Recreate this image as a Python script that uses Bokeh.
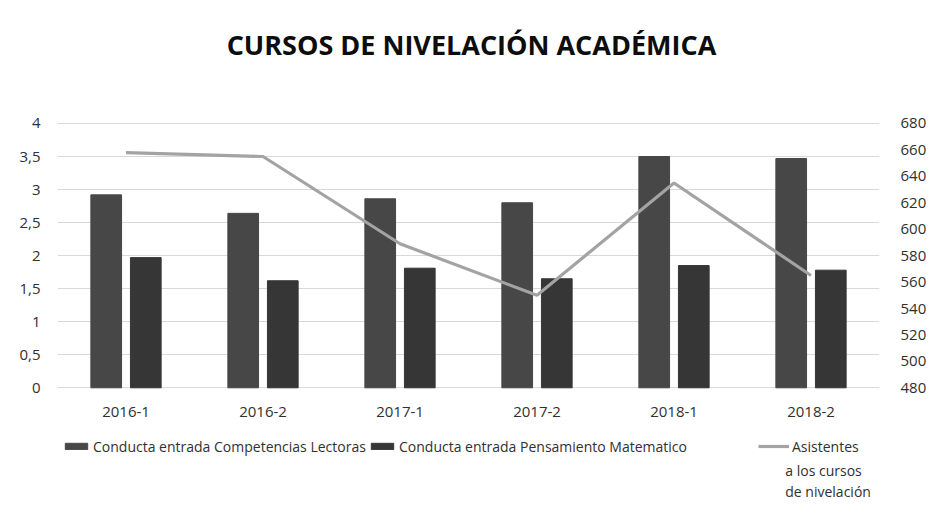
from bokeh.plotting import figure
from bokeh.models import (ColumnDataSource, FactorRange, Range1d, LinearAxis, FixedTicker,
                          Legend, LegendItem, Label)
from bokeh.core.properties import value
from bokeh.transform import dodge
from bokeh.embed import file_html
from bokeh.resources import INLINE

categories = ["2016-1", "2016-2", "2017-1", "2017-2", "2018-1", "2018-2"]
lectoras = [2.92, 2.64, 2.86, 2.80, 3.50, 3.47]
matematico = [1.97, 1.62, 1.81, 1.65, 1.85, 1.78]
asistentes = [658, 655, 589, 550, 635, 565]

left_ticks = [0, 0.5, 1, 1.5, 2, 2.5, 3, 3.5, 4]
left_labels = ["0", "0,5", "1", "1,5", "2", "2,5", "3", "3,5", "4"]
right_ticks = [480, 500, 520, 540, 560, 580, 600, 620, 640, 660, 680]

title_text = "CURSOS DE NIVELACIÓN ACADÉMICA"
name_lc = "Conducta entrada Competencias Lectoras"
name_pm = "Conducta entrada Pensamiento Matematico"
name_as = ["Asistentes", "a los cursos", "de nivelación"]

FONT = "Open Sans"
TXT = "#303030"

# ---- layout (pixels) ----
W, H = 929, 510
B_LEFT, B_RIGHT, B_TOP, B_BOTTOM = 57, 43, 0, 5
FRAME_W = W - B_LEFT - B_RIGHT
FRAME_H = H - B_TOP - B_BOTTOM
ZERO_PX = 387.3               # vertical pixel of the zero line
PX_PER_UNIT = 66.08           # left-axis pixels per unit
CAT_PX = FRAME_W / len(categories)
L_MIN, L_MAX = 0, 4
R_MIN, R_MAX = 480, 680


def py(px):  # vertical pixel -> left-axis data value
    return (ZERO_PX - px) / PX_PER_UNIT


def px_x(px):  # horizontal pixel -> categorical synthetic coordinate
    return (px - B_LEFT) / CAT_PX


y_hi, y_lo = py(B_TOP), py(B_TOP + FRAME_H)
r_per_l = (R_MAX - R_MIN) / (L_MAX - L_MIN)

src = ColumnDataSource(dict(cat=categories, lc=lectoras, pm=matematico, asis=asistentes))

p = figure(x_range=FactorRange(*categories, range_padding=0), y_range=Range1d(y_lo, y_hi),
           width=W, height=H, output_backend="svg", toolbar_location=None,
           min_border_left=B_LEFT, min_border_right=B_RIGHT, min_border_top=B_TOP,
           min_border_bottom=B_BOTTOM)
p.outline_line_color = None
p.background_fill_color = "white"
p.border_fill_color = "white"
p.extra_y_ranges = {"asis": Range1d(R_MIN + y_lo * r_per_l, R_MIN + y_hi * r_per_l)}

b1 = p.vbar(x=dodge("cat", -0.1445, range=p.x_range), top="lc", width=0.224, source=src,
            fill_color="#474747", line_color="#474747")
b2 = p.vbar(x=dodge("cat", 0.1445, range=p.x_range), top="pm", width=0.224, source=src,
            fill_color="#363636", line_color="#363636")
l1 = p.line(x="cat", y="asis", source=src, y_range_name="asis", line_color="#a3a3a3",
            line_width=3.2)

# category labels below the zero line
p.text(x="cat", y=py(411.7), text="cat", source=src, text_font=value(FONT),
       text_font_size="15px", text_color=TXT, text_align="center", text_baseline="middle")

# axes
p.xaxis.visible = False
p.yaxis.ticker = FixedTicker(ticks=left_ticks)
p.yaxis.major_label_overrides = {t: l for t, l in zip(left_ticks, left_labels)}
ax_r = LinearAxis(y_range_name="asis", ticker=FixedTicker(ticks=right_ticks))
p.add_layout(ax_r, "right")
for ax in [p.yaxis[0], ax_r]:
    ax.axis_line_color = None
    ax.major_tick_line_color = None
    ax.minor_tick_line_color = None
    ax.major_label_text_font = FONT
    ax.major_label_text_font_size = "15px"
    ax.major_label_text_color = TXT
p.yaxis[0].major_label_standoff = 11
ax_r.major_label_standoff = 15

p.xgrid.grid_line_color = None
p.ygrid.ticker = FixedTicker(ticks=left_ticks)
p.ygrid.grid_line_color = "#d9d9d9"
p.ygrid.grid_line_width = 1

# title
p.add_layout(Label(x=px_x(474.5), y=py(43.5), text=title_text, text_font=FONT,
                   text_font_size="27px", text_font_style="bold", text_color="#0d0d0d",
                   text_align="center", text_baseline="middle"))

# legends (screen offsets from the frame's bottom-left corner to the legend's bottom-left)
LEG_Y = (B_TOP + FRAME_H) - 455.5
common = dict(orientation="horizontal", label_text_font=FONT, label_text_font_size="14px",
              label_text_color=TXT, glyph_height=8, spacing=4, label_standoff=3,
              padding=0, margin=0, border_line_color=None, background_fill_alpha=0)
leg_a = Legend(items=[LegendItem(label=name_lc, renderers=[b1])],
               location=(62 - B_LEFT, LEG_Y), glyph_width=28, **common)
leg_b = Legend(items=[LegendItem(label=name_pm, renderers=[b2])],
               location=(368 - B_LEFT, LEG_Y), glyph_width=28, **common)
leg_c = Legend(items=[LegendItem(label=name_as[0], renderers=[l1])],
               location=(758 - B_LEFT, LEG_Y), glyph_width=31, **common)
for lg in (leg_a, leg_b, leg_c):
    p.add_layout(lg, "center")

# remaining lines of the third legend label
for i, txt in enumerate(name_as[1:]):
    p.add_layout(Label(x=px_x(791), y=py(469.5 + i * 21.0), text=txt, text_font=FONT,
                       text_font_size="14px", text_color=TXT, text_baseline="middle",
                       text_align="left"))

open("out.html", "w").write(file_html(p, INLINE))
